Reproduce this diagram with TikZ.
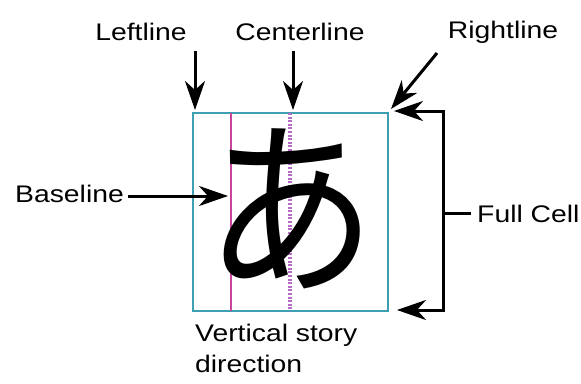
\documentclass[tikz,border=0pt]{standalone}
\usepackage{fontspec}
\setmainfont{Liberation Sans}[FakeStretch=1.18]
\newfontfamily\cjk{Noto Sans CJK JP}
\usetikzlibrary{arrows.meta}
\definecolor{cella}{HTML}{3E9FB3}
\definecolor{linea}{HTML}{C8459E}
\definecolor{centro}{HTML}{B46CC4}

\begin{document}
\begin{tikzpicture}[x=1pt,y=-1pt,>={Stealth[length=29pt,width=20pt,inset=9pt]},
  freccia/.style={->,line width=3pt},
  etich/.style={font=\fontsize{24}{31}\selectfont,inner sep=0pt}]
  \useasboundingbox (0,0) rectangle (581,383);
  % la cella
  \coordinate (no) at (193,113);
  \coordinate (se) at (388,311);
  \draw[cella,line width=1.8pt] (no) rectangle (se);
  \draw[linea,line width=1.6pt] (231,113) -- (231,311);
  \draw[centro,line width=4pt,dash pattern=on 2pt off 1.6pt] (290,113) -- (290,311);
  \node[font=\cjk\fontsize{190}{190}\selectfont,inner sep=0pt,xscale=0.9,transform shape] (kana) at (291,209) {あ};
  % etichette in alto
  \node[etich,anchor=base] (leftlbl) at (141,40) {Leftline};
  \node[etich,anchor=base] (centerlbl) at (300,40) {Centerline};
  \node[etich,anchor=base] (rightlbl) at (503,38) {Rightline};
  \coordinate (lefttail) at (195,51);
  \coordinate (lefttip) at (195,110);
  \coordinate (centertail) at (293,51);
  \coordinate (centertip) at (293,110);
  \coordinate (righttail) at (437,53);
  \coordinate (righttip) at (391,109);
  \draw[freccia] (lefttail) -- (lefttip);
  \draw[freccia] (centertail) -- (centertip);
  \draw[freccia] (righttail) -- (righttip);
  % baseline
  \node[etich,anchor=base west] (baselbl) at (15,202) {Baseline};
  \coordinate (basetip) at (228,196);
  \draw[freccia] ([xshift=4pt]baselbl.east |- basetip) -- (basetip);
  % parentesi
  \coordinate (brtop) at (443,111);
  \coordinate (brbot) at (443,310);
  \coordinate (tiptop) at (394,111);
  \coordinate (tipbot) at (397,310);
  \draw[<->,line width=3pt] (tiptop) -- (brtop) -- (brbot) -- (tipbot);
  \node[etich,anchor=base west] (fulllbl) at (477,222) {Full Cell};
  \draw[line width=3pt] ([xshift=-6pt]fulllbl.west) -- (brtop |- fulllbl.west);
  % sotto
  \node[etich,anchor=base west,align=left] (dirlbl) at (195,372) {Vertical story\\direction};
\end{tikzpicture}
\end{document}
